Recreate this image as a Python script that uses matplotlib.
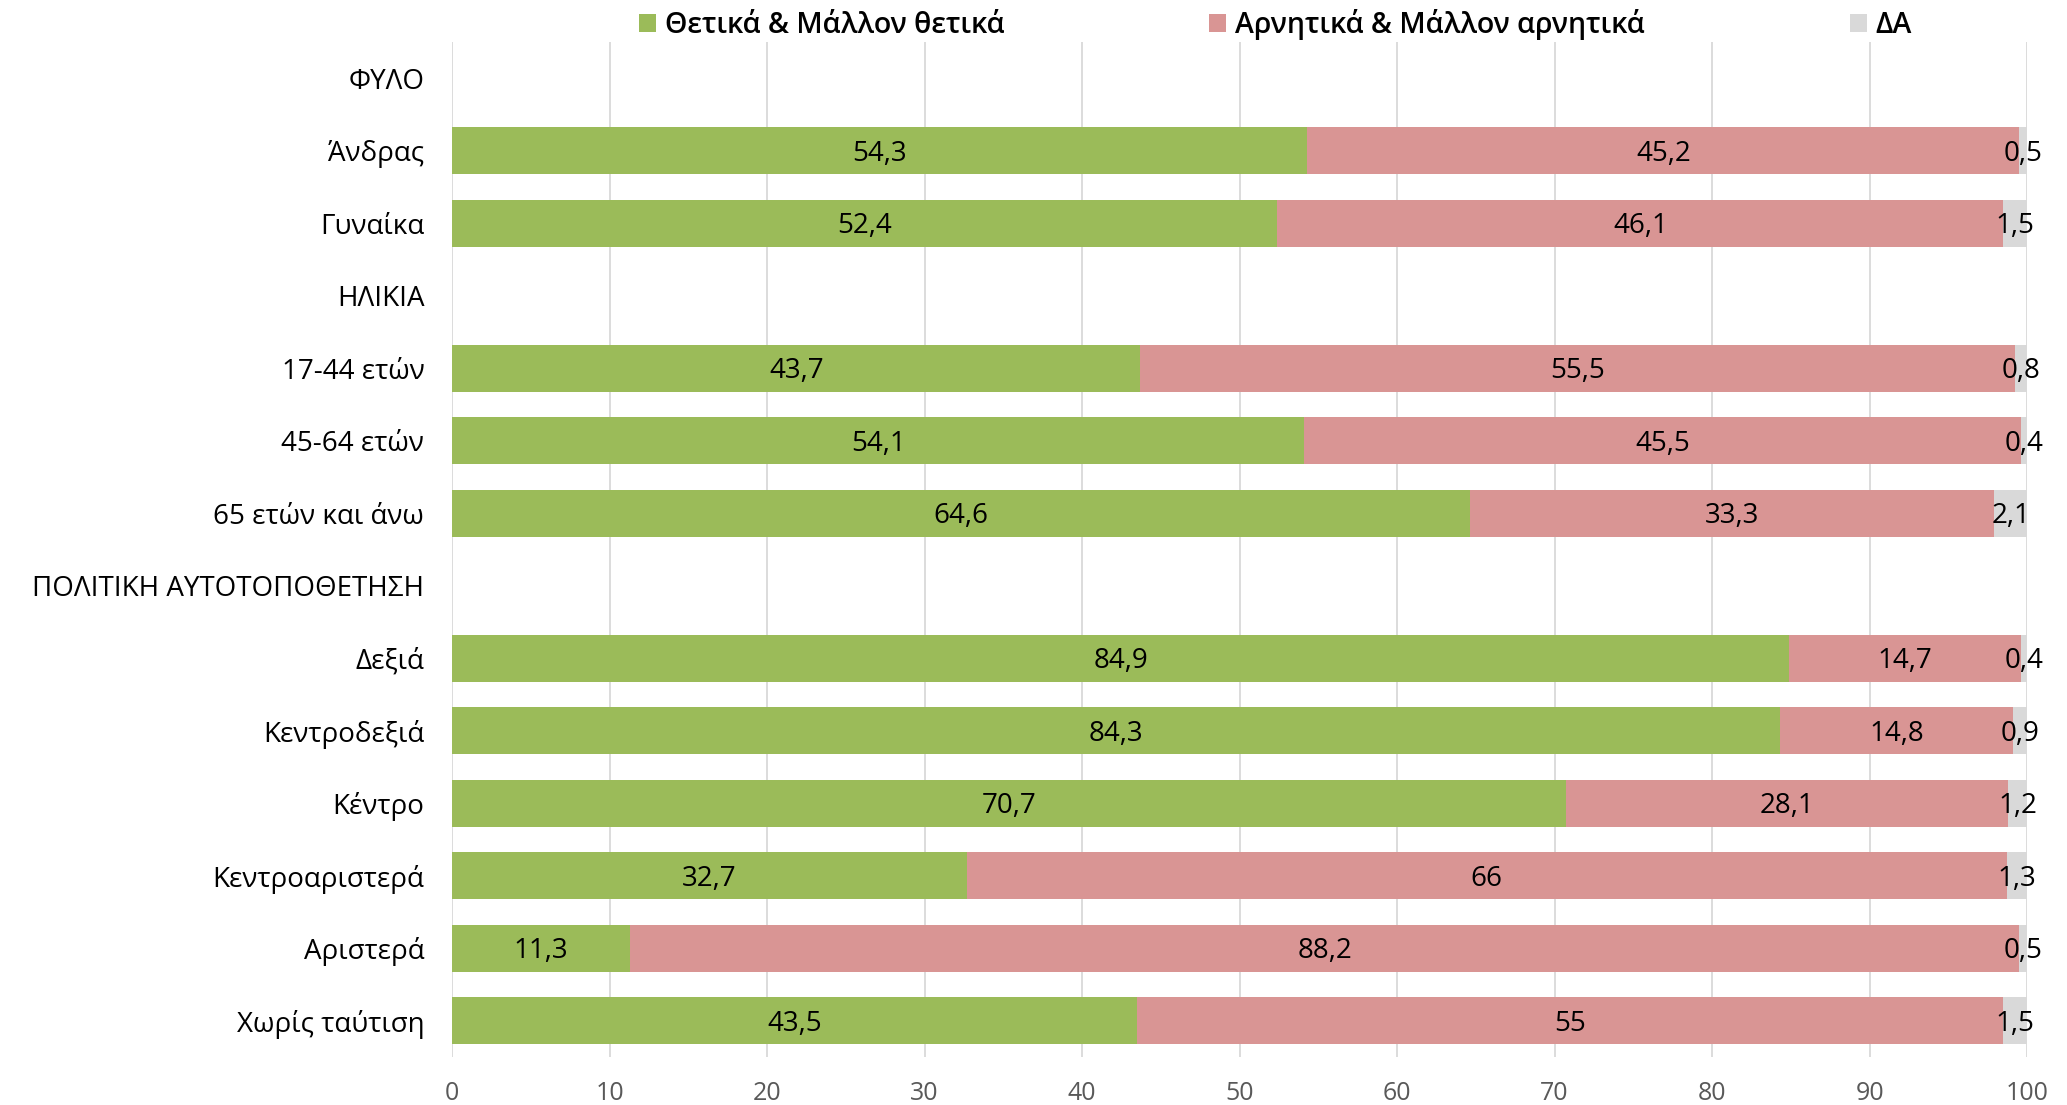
import numpy as np
import matplotlib.pyplot as plt
from matplotlib.patches import Patch

plt.rcParams['font.family'] = ['Open Sans', 'DejaVu Sans']

categories = ['ΦΥΛΟ', 'Άνδρας', 'Γυναίκα', 'ΗΛΙΚΙΑ', '17-44 ετών', '45-64 ετών',
              '65 ετών και άνω', 'ΠΟΛΙΤΙΚΗ ΑΥΤΟΤΟΠΟΘΕΤΗΣΗ', 'Δεξιά', 'Κεντροδεξιά',
              'Κέντρο', 'Κεντροαριστερά', 'Αριστερά', 'Χωρίς ταύτιση']
positive = [np.nan, 54.3, 52.4, np.nan, 43.7, 54.1, 64.6, np.nan, 84.9, 84.3, 70.7, 32.7, 11.3, 43.5]
negative = [np.nan, 45.2, 46.1, np.nan, 55.5, 45.5, 33.3, np.nan, 14.7, 14.8, 28.1, 66, 88.2, 55]
dk = [np.nan, 0.5, 1.5, np.nan, 0.8, 0.4, 2.1, np.nan, 0.4, 0.9, 1.2, 1.3, 0.5, 1.5]
series_names = ['Θετικά & Μάλλον θετικά', 'Αρνητικά & Μάλλον αρνητικά', 'ΔΑ']
colors = ['#9BBB59', '#D99594', '#D9D9D9']

fig = plt.figure(figsize=(20.67, 11.05), dpi=100)
ax = fig.add_axes([0.2187, 0.0434, 0.7620, 0.9186])

y = np.arange(len(categories))
left = np.zeros(len(categories))
for vals, col in zip([positive, negative, dk], colors):
    v = np.array(vals, dtype=float)
    ax.barh(y, np.nan_to_num(v), left=left, height=0.65, color=col, zorder=2)
    # data labels in the middle of each segment, comma as decimal sign
    for yi, (l, w) in enumerate(zip(left, v)):
        if np.isnan(w):
            continue
        txt = ('%g' % w).replace('.', ',')
        ax.text(l + w / 2, yi + 0.04, txt, ha='center', va='center', fontsize=20, color='black', zorder=3)
    left = left + np.nan_to_num(v)

ax.set_xlim(0, 100)
ax.set_ylim(len(categories) - 0.5, -0.5)
ax.set_xticks(np.arange(0, 101, 10))
ax.set_yticks(y)
ax.set_yticklabels(categories, fontsize=20, color='black')
ax.tick_params(axis='x', labelsize=18, colors='#595959', length=0, pad=17)
ax.tick_params(axis='y', length=0, pad=20)
ax.grid(axis='x', color='#D9D9D9', linewidth=1.3, zorder=0)
for s in ax.spines.values():
    s.set_visible(False)

handles = [Patch(facecolor=c) for c in colors]
fig.legend(handles, series_names, loc='center', bbox_to_anchor=(0.617, 0.978), ncol=3,
           frameon=False, handlelength=0.6, handleheight=0.6,
           handletextpad=0.3, columnspacing=7.2,
           prop={'size': 20.5, 'weight': 'semibold'})

fig.savefig('out.png', dpi=100)
